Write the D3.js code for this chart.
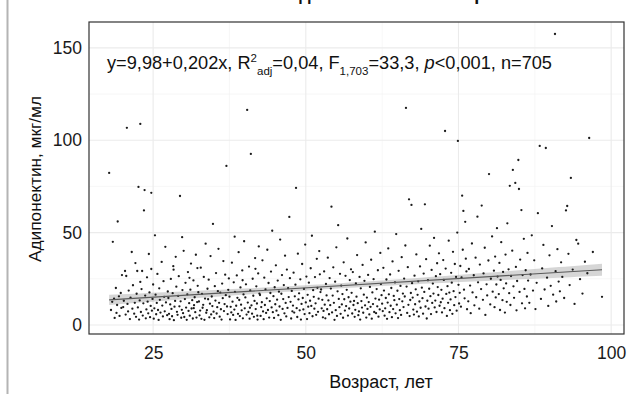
<!DOCTYPE html>
<html><head><meta charset="utf-8">
<script src="https://cdn.jsdelivr.net/npm/d3@7"></script>
<style>html,body{margin:0;padding:0;background:#fff;}svg{display:block;font-family:"Liberation Sans",Arial,sans-serif;}</style>
</head><body><svg id="c" width="640" height="394"></svg>
<script>
// ---- data ----
const titleText = "Зависимость адипонектина от возраста";
const xTitle = "Возраст, лет";
const yTitle = "Адипонектин, мкг/мл";
const ageTicks = [25, 50, 75, 100];
const ageMinor = [37.5, 62.5, 87.5];
const adipTicks = [0, 50, 100, 150];
const adipMinor = [25, 75, 125];
const modelCoef = [9.98, 0.202]; // intercept, slope
// [age, adiponectin]
const obs = [
[17.8,82.3],[18.1,8.1],[18.3,12.5],[18.4,45],[18.6,14.2],[18.7,3.8],[18.9,20],[19.0,6.5],[19.1,10.8],[19.2,56],[19.4,15.5],[19.5,4.9],[19.7,17.3],[19.8,9.2],[19.9,27],[20.1,9.7],[20.2,13.1],[20.4,29.2],[20.5,5.6],[20.6,26.5],[20.7,106.7],[20.8,11.4],[20.9,7.3],[21.0,18.6],[21.2,3.2],[21.3,14.8],[21.5,39.5],[21.6,8.8],[21.7,21.5],[21.9,6.1],[22.0,12.0],[22.1,33.5],[22.2,4.4],[22.3,16.9],[22.4,29.2],
[22.5,9.5],[22.6,74.7],[22.7,2.9],[22.8,13.3],[22.9,108.8],[22.9,23.3],[23.0,7.0],[23.1,19.4],[23.2,29.2],[23.3,5.1],[23.4,11.7],[23.5,62],[23.6,73],[23.7,15.9],[23.8,3.6],[23.9,8.4],[24.0,25.8],[24.1,12.6],[24.2,6.3],[24.3,38.4],[24.4,17.6],[24.5,4.2],[24.6,10.3],[24.7,30.3],[24.7,71.5],[24.8,7.7],[24.9,14.1],[25.0,21.9],[25.1,3.4],[25.2,9.0],[25.3,48.5],[25.4,16.4],[25.5,5.8],[25.6,11.9],[25.7,27.6],[25.8,8.1],[25.9,2.7],[26.0,19.8],[26.1,13.6],[26.2,6.7],[26.4,34.1],[26.5,10.5],[26.6,4.6],[26.7,23.7],[26.8,15.2],[26.9,7.4],[27.0,42.3],[27.1,12.2],[27.3,5.3],[27.4,18.1],
[27.5,14.6],[27.6,6.0],[27.7,3.1],[27.8,11.1],[27.9,24.9],[28.0,8.7],[28.1,4.7],[28.2,17.2],[28.3,31.8],[28.4,2.6],[28.5,9.9],[28.6,13.0],[28.7,36.9],[28.8,20.7],[28.9,7.1],[29.0,5.5],[29.1,15.7],[29.2,26.4],[29.3,10.1],[29.4,69.8],[29.5,12.8],[29.6,3.9],[29.7,8.2],[29.8,18.9],[29.9,6.4],[30.0,40.1],[30.1,4.3],[30.2,14.0],[30.3,22.8],[30.4,9.4],[30.5,2.8],[30.6,16.6],[30.7,28.6],[30.8,7.6],[30.9,11.8],[31.0,5.0],[31.1,19.1],[31.2,33.2],[31.3,8.9],[31.4,13.4],[31.5,3.5],[31.6,24.1],[31.7,10.7],[31.8,15.0],[31.9,6.9],[32.0,38.0],[32.1,4.0],[32.2,12.4],[32.3,21.2],[32.4,17.7],[28.35,29.9],[29.75,47.5],[30.95,25.5],[31.65,9.1],[32.25,30.8],
[32.5,12.7],[32.6,5.2],[32.7,7.8],[32.8,31.0],[32.9,3.3],[33.0,16.8],[33.1,9.3],[33.2,10.9],[33.3,26.0],[33.4,2.8],[33.5,14.3],[33.6,44.0],[33.7,6.6],[33.8,8.0],[33.9,19.6],[34.0,13.9],[34.1,24.5],[34.2,4.1],[34.3,11.5],[34.4,37.3],[34.5,5.7],[34.6,15.4],[34.7,10.2],[34.8,54.7],[34.9,7.2],[35.0,3.7],[35.1,21.0],[35.2,13.2],[35.3,28.1],[35.4,6.2],[35.5,9.6],[35.6,18.3],[35.7,41.2],[35.8,12.0],[35.9,4.5],[36.0,17.5],[36.1,8.5],[36.2,2.9],[36.3,22.4],[36.4,14.5],[36.5,34.6],[36.6,7.5],[36.7,11.3],[36.8,27.2],[36.9,16.1],[37.0,86.1],[37.1,10.0],[37.2,5.9],[37.3,19.0],[37.4,25.2],
[37.5,15.3],[37.6,3.0],[37.7,9.8],[37.8,6.8],[37.9,33.7],[38.0,12.6],[38.1,5.4],[38.2,23.1],[38.3,8.3],[38.4,17.9],[38.5,2.7],[38.6,10.4],[38.7,26.8],[38.8,14.7],[38.9,6.0],[39.0,39.4],[39.1,13.5],[39.2,4.8],[39.3,20.3],[39.4,11.0],[39.5,7.9],[39.6,29.5],[39.7,3.6],[39.8,16.5],[39.9,45.3],[40.0,9.0],[40.1,14.9],[40.2,22.0],[40.3,5.6],[40.4,116.4],[40.5,12.1],[40.6,7.0],[40.7,31.6],[40.8,3.4],[40.9,18.7],[41.0,92.6],[41.1,10.6],[41.2,6.1],[41.3,25.0],[41.4,15.8],[41.5,4.4],[41.6,13.0],[41.7,36.2],[41.8,8.6],[41.9,20.9],[42.0,11.6],[42.1,2.9],[42.2,27.9],[42.3,42.5],[42.4,17.0],[38.35,47.8],[39.65,24.2],[40.85,9.3],[41.75,30.4],[42.05,5.0],
[42.5,16.2],[42.6,4.9],[42.7,9.7],[42.8,12.3],[42.9,35.0],[43.0,7.3],[43.1,3.1],[43.2,25.6],[43.3,10.8],[43.4,19.3],[43.5,6.5],[43.6,14.4],[43.7,40.7],[43.8,8.1],[43.9,22.7],[44.0,4.0],[44.1,12.9],[44.2,17.3],[44.3,28.9],[44.4,9.5],[44.5,51.0],[44.6,6.9],[44.7,15.6],[44.8,3.8],[44.9,20.4],[45.0,11.2],[45.1,32.3],[45.2,7.7],[45.3,13.7],[45.4,24.0],[45.5,5.3],[45.6,18.0],[45.7,10.0],[45.8,46.2],[45.9,2.8],[46.0,16.9],[46.1,27.0],[46.2,8.7],[46.3,14.0],[46.4,21.6],[46.5,6.3],[46.6,37.5],[46.7,11.9],[46.8,4.6],[46.9,30.0],[47.0,9.2],[47.1,19.9],[47.2,15.1],[47.3,58.5],[47.4,25.3],
[47.5,12.5],[47.6,3.5],[47.7,18.4],[47.8,7.4],[47.9,10.5],[48.0,28.3],[48.1,6.7],[48.2,15.5],[48.3,21.8],[48.4,74.2],[48.5,9.1],[48.6,4.3],[48.7,38.6],[48.8,13.8],[48.9,17.1],[49.0,7.9],[49.1,24.7],[49.2,2.9],[49.3,11.4],[49.4,33.0],[49.5,14.6],[49.6,8.4],[49.7,19.5],[49.8,5.9],[49.9,43.5],[50.0,12.2],[50.1,26.2],[50.2,3.2],[50.3,16.3],[50.4,9.9],[50.5,22.9],[50.6,6.4],[50.7,13.1],[50.8,30.7],[50.9,10.3],[51.0,48.3],[51.1,4.7],[51.2,18.8],[51.3,15.2],[51.4,8.8],[51.5,25.9],[51.6,11.7],[51.7,5.5],[51.8,35.8],[51.9,20.1],[52.0,7.1],[52.1,14.2],[52.2,40.0],[52.3,27.4],[52.4,17.8],
[52.5,19.2],[52.6,9.0],[52.7,13.6],[52.8,4.1],[52.9,7.6],[53.0,29.0],[53.1,11.0],[53.2,3.6],[53.3,22.2],[53.4,16.0],[53.5,8.5],[53.6,36.4],[53.7,13.3],[53.8,5.8],[53.9,25.4],[54.0,10.7],[54.1,19.7],[54.2,64.0],[54.3,6.8],[54.4,15.9],[54.5,31.2],[54.6,12.0],[54.7,2.8],[54.8,23.4],[54.9,8.0],[55.0,42.0],[55.1,4.9],[55.2,18.2],[55.3,54.0],[55.4,14.1],[55.5,9.6],[55.6,27.7],[55.7,6.0],[55.8,21.3],[55.9,11.1],[56.0,16.7],[56.1,3.9],[56.2,33.9],[56.3,13.9],[56.4,7.8],[56.5,26.6],[56.6,10.2],[56.7,19.0],[56.8,46.8],[56.9,5.1],[57.0,15.0],[57.1,8.9],[57.2,24.3],[57.3,12.6],[57.4,30.1],
[57.5,17.4],[57.6,6.2],[57.7,28.6],[57.8,10.8],[57.9,13.0],[58.0,4.4],[58.1,8.2],[58.2,22.5],[58.3,15.3],[58.4,37.8],[58.5,11.8],[58.6,5.3],[58.7,7.3],[58.8,26.0],[58.9,2.9],[59.0,19.8],[59.1,12.9],[59.2,9.4],[59.3,32.5],[59.4,6.6],[59.5,16.4],[59.6,23.9],[59.7,10.6],[59.8,44.7],[59.9,4.0],[60.0,14.8],[60.1,8.7],[60.2,27.1],[60.3,12.4],[60.4,5.7],[60.5,20.6],[60.6,9.8],[60.7,35.3],[60.8,3.4],[60.9,17.6],[61.0,11.3],[61.1,24.8],[61.2,7.0],[61.3,50.5],[61.4,14.3],[61.5,6.4],[61.6,19.4],[61.7,10.1],[61.8,29.6],[61.9,4.5],[62.0,13.7],[62.1,8.4],[62.2,39.0],[62.3,22.1],[62.4,16.1],
[62.5,11.5],[62.6,7.5],[62.7,30.9],[62.8,18.6],[62.9,5.0],[63.0,9.0],[63.1,14.6],[63.2,24.6],[63.3,3.3],[63.4,12.1],[63.5,41.4],[63.6,16.6],[63.7,6.9],[63.8,27.3],[63.9,10.4],[64.0,20.0],[64.1,4.2],[64.2,34.4],[64.3,8.6],[64.4,15.7],[64.5,13.4],[64.6,23.0],[64.7,6.3],[64.8,49.2],[64.9,11.0],[65.0,18.5],[65.1,3.7],[65.2,29.3],[65.3,14.0],[65.4,8.0],[65.5,21.1],[65.6,5.4],[65.7,36.7],[65.8,12.8],[65.9,17.0],[66.0,9.7],[66.1,25.1],[66.2,15.4],[66.3,43.0],[66.4,117.5],[66.5,20.8],[66.6,6.5],[66.7,31.3],[66.8,10.9],[66.9,68.0],[67.0,4.8],[67.1,13.5],[67.2,17.3],[67.3,65.0],[67.4,22.6],
[67.5,14.8],[67.6,8.3],[67.7,5.6],[67.8,26.7],[67.9,11.2],[68.0,19.3],[68.1,38.2],[68.2,7.2],[68.3,16.3],[68.4,23.6],[68.5,4.6],[68.6,12.7],[68.7,31.7],[68.8,9.3],[68.9,52.0],[69.0,20.2],[69.1,14.5],[69.2,6.1],[69.3,27.8],[69.4,17.9],[69.5,65.3],[69.6,10.0],[69.7,35.6],[69.8,3.5],[69.9,13.1],[70.0,24.2],[70.1,8.8],[70.2,19.6],[70.3,42.9],[70.4,15.6],[70.5,5.9],[70.6,29.8],[70.7,11.9],[70.8,22.4],[70.9,17.0],[71.0,47.1],[71.1,9.5],[71.2,13.2],[71.3,26.4],[71.4,7.0],[71.5,33.4],[71.6,20.5],[71.7,16.2],[71.8,38.8],[71.9,10.4],
[72.0,27.5],[72.1,12.3],[72.2,19.0],[72.3,6.8],[72.4,14.2],[72.5,35.1],[72.6,24.4],[72.7,9.1],[72.8,105.0],[72.9,30.5],[73.0,16.8],[73.1,4.9],[73.2,21.0],[73.3,12.0],[73.4,45.6],[73.5,17.5],[73.6,8.0],[73.7,13.8],[73.8,28.2],[73.9,22.9],[74.0,6.0],[74.1,39.6],[74.2,18.3],[74.3,10.7],[74.4,33.0],[74.5,15.1],[74.6,26.0],[74.7,7.7],[74.8,50.0],[74.9,99.6],[75.0,21.7],[75.1,11.6],[75.2,17.4],[75.3,31.9],[75.4,9.9],[75.5,25.7],[75.6,70.0],[75.7,40.7],[75.8,61.7],[75.9,19.1],[76.0,14.4],[76.1,55.8],[76.2,35.9],[76.3,29.0],[76.4,8.5],
[76.6,12.8],[76.7,30.3],[76.9,21.3],[77.0,6.4],[77.2,44.1],[77.3,17.6],[77.5,26.9],[77.6,10.6],[77.8,36.4],[77.9,15.0],[78.1,58.6],[78.2,23.1],[78.4,8.8],[78.5,32.7],[78.7,19.4],[78.8,64.6],[79.0,13.6],[79.1,27.9],[79.3,41.8],[79.4,5.4],[79.6,22.0],[79.7,16.0],[79.9,34.9],[80.0,81.7],[80.2,11.1],[80.3,25.0],[80.5,47.9],[80.6,18.0],[80.8,29.4],[80.9,9.6],[81.0,37.0],[81.1,14.9],[81.2,21.9],[81.3,52.4],[81.4,26.2],
[81.6,16.7],[81.7,33.6],[81.8,8.1],[81.9,24.4],[82.0,44.8],[82.2,13.4],[82.3,28.7],[82.4,19.8],[82.6,6.7],[82.7,38.1],[82.8,22.5],[82.9,12.5],[83.0,55.0],[83.2,30.1],[83.3,17.2],[83.4,75.3],[83.5,10.8],[83.6,26.5],[83.8,40.2],[83.9,83.9],[84.0,20.9],[84.1,14.7],[84.3,76.9],[84.4,31.4],[84.5,7.9],[84.6,23.8],[84.8,89.3],[84.9,73.6],[85.0,17.9],[85.1,35.4],[85.3,62.2],[85.4,11.7],[85.5,27.0],[85.7,46.6],[85.8,19.5],[85.9,9.0],[86.0,29.6],[86.2,15.4],[86.3,39.0],[86.4,24.0],
[86.6,12.0],[86.8,27.3],[87.0,48.5],[87.2,18.6],[87.4,35.0],[87.6,8.6],[87.8,22.8],[88.0,60.5],[88.3,96.9],[88.5,14.1],[88.7,30.6],[88.9,43.3],[89.1,19.2],[89.3,95.8],[89.5,25.6],[89.7,10.3],[89.9,37.7],[90.1,21.2],[90.3,53.5],[90.5,16.4],[90.8,157.5],[90.9,29.1],[91.0,12.7],[91.2,41.0],[91.4,23.5],
[91.6,18.2],[91.8,33.9],[92.0,26.0],[92.3,14.6],[92.6,62.0],[92.8,64.4],[93.0,38.5],[93.2,21.6],[93.4,79.6],[93.7,30.0],[94.0,11.4],[94.3,46.0],[94.6,44.0],[94.9,24.8],[95.3,17.0],[95.7,34.2],[96.1,28.0],[96.4,101.2],[97.0,39.5],[98.5,15.2]
];

// ---- layout ----
const svg = d3.select("#c");
const P = {l: 89, r: 624, t: 22, b: 334};
const x = d3.scaleLinear().domain([14.5, 102.1]).range([P.l, P.r]);
const y = d3.scaleLinear().domain([-4.9, 164]).range([P.b, P.t]);

// left decorative rule
svg.append("line").attr("x1", 7.5).attr("x2", 7.5).attr("y1", 0).attr("y2", 394)
  .attr("stroke", "#b4b4b4").attr("stroke-width", 2);

// title (mostly cut off at top, as in the source)
svg.append("text").attr("x", 345).attr("y", 0).attr("text-anchor", "middle")
  .attr("font-size", 18).attr("font-weight", "bold").attr("fill", "#111").text(titleText);

// grid
const g = svg.append("g");
g.selectAll(".vmin").data(ageMinor).join("line").attr("x1", d => x(d)).attr("x2", d => x(d))
  .attr("y1", P.t).attr("y2", P.b).attr("stroke", "#f3f3f3").attr("stroke-width", 0.7);
g.selectAll(".hmin").data(adipMinor).join("line").attr("y1", d => y(d)).attr("y2", d => y(d))
  .attr("x1", P.l).attr("x2", P.r).attr("stroke", "#f3f3f3").attr("stroke-width", 0.7);
g.selectAll(".vmaj").data(ageTicks).join("line").attr("x1", d => x(d)).attr("x2", d => x(d))
  .attr("y1", P.t).attr("y2", P.b).attr("stroke", "#ebebeb").attr("stroke-width", 1.1);
g.selectAll(".hmaj").data(adipTicks).join("line").attr("y1", d => y(d)).attr("y2", d => y(d))
  .attr("x1", P.l).attr("x2", P.r).attr("stroke", "#ebebeb").attr("stroke-width", 1.1);

// confidence band around the model line
const n = obs.length;
const xbar = d3.mean(obs, d => d[0]);
const Sxx = d3.sum(obs, d => (d[0] - xbar) ** 2);
const fit = a => modelCoef[0] + modelCoef[1] * a;
const sres = Math.sqrt(d3.sum(obs, d => (d[1] - fit(d[0])) ** 2) / (n - 2));
const tq = 1.963;
const [amin, amax] = d3.extent(obs, d => d[0]);
const grid = d3.range(0, 81).map(i => amin + (amax - amin) * i / 80);
const half = a => tq * sres * Math.sqrt(1 / n + (a - xbar) ** 2 / Sxx);
svg.append("path").datum(grid)
  .attr("d", d3.area().x(a => x(a)).y0(a => y(fit(a) - half(a))).y1(a => y(fit(a) + half(a))))
  .attr("fill", "#999").attr("fill-opacity", 0.4);

// points
svg.append("g").selectAll("circle").data(obs).join("circle")
  .attr("cx", d => x(d[0])).attr("cy", d => y(d[1])).attr("r", 1.15).attr("fill", "#1a1a1a");

// fitted line
svg.append("path").datum([amin, amax])
  .attr("d", d3.line().x(a => x(a)).y(a => y(fit(a))))
  .attr("stroke", "#5a5a5a").attr("stroke-width", 1.1).attr("fill", "none");

// panel border
svg.append("rect").attr("x", P.l).attr("y", P.t).attr("width", P.r - P.l).attr("height", P.b - P.t)
  .attr("fill", "none").attr("stroke", "#333").attr("stroke-width", 1.2);

// axes (labels only, no tick marks)
const xAx = svg.append("g").attr("transform", `translate(0,${P.b})`)
  .call(d3.axisBottom(x).tickValues(ageTicks).tickSize(0).tickPadding(13));
const yAx = svg.append("g").attr("transform", `translate(${P.l},0)`)
  .call(d3.axisLeft(y).tickValues(adipTicks).tickSize(0).tickPadding(7));
[xAx, yAx].forEach(a => {
  a.select(".domain").remove();
  a.selectAll("text").attr("font-size", 17.5).attr("fill", "#1a1a1a").attr("font-family", '"Liberation Sans",Arial,sans-serif');
});

// axis titles
svg.append("text").attr("x", 381).attr("y", 388).attr("text-anchor", "middle")
  .attr("font-size", 18).attr("fill", "#111").text(xTitle);
svg.append("text").attr("transform", "translate(41,179) rotate(-90)").attr("text-anchor", "middle")
  .attr("font-size", 16.5).attr("textLength", 166).attr("lengthAdjust", "spacingAndGlyphs")
  .attr("fill", "#111").text(yTitle);

// annotation
const ann = svg.append("text").attr("x", 107).attr("y", 69).attr("font-size", 18.2).attr("fill", "#111");
ann.append("tspan").text("y=9,98+0,202x, R");
ann.append("tspan").attr("font-size", 11.5).attr("dy", -7).text("2");
ann.append("tspan").attr("font-size", 11.5).attr("dy", 13).text("adj");
ann.append("tspan").attr("dy", -6).text("=0,04, F");
ann.append("tspan").attr("font-size", 11.5).attr("dy", 6).text("1,703");
ann.append("tspan").attr("dy", -6).text("=33,3, ");
ann.append("tspan").attr("font-style", "italic").text("p");
ann.append("tspan").text("<0,001, n=" + n);
</script></body></html>
